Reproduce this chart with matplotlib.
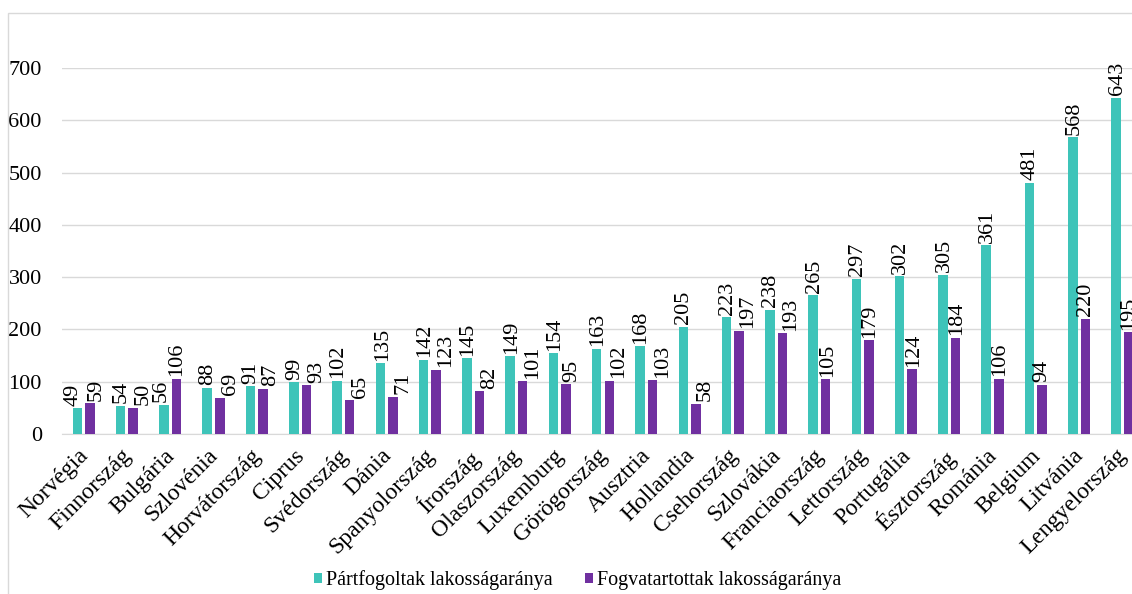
import matplotlib
matplotlib.use("Agg")
import matplotlib.pyplot as plt
from matplotlib.patches import Patch, Rectangle
from matplotlib.transforms import ScaledTranslation
import numpy as np

countries = ["Norvégia", "Finnország", "Bulgária", "Szlovénia", "Horvátország",
             "Ciprus", "Svédország", "Dánia", "Spanyolország", "Írország",
             "Olaszország", "Luxemburg", "Görögország", "Ausztria", "Hollandia",
             "Csehország", "Szlovákia", "Franciaország", "Lettország", "Portugália",
             "Észtország", "Románia", "Belgium", "Litvánia", "Lengyelország"]
partfogoltak = [49, 54, 56, 88, 91, 99, 102, 135, 142, 145, 149, 154, 163, 168, 205,
                223, 238, 265, 297, 302, 305, 361, 481, 568, 643]
fogvatartottak = [59, 50, 106, 69, 87, 93, 65, 71, 123, 82, 101, 95, 102, 103, 58,
                  197, 193, 105, 179, 124, 184, 106, 94, 220, 195]
yticks = [0, 100, 200, 300, 400, 500, 600, 700]
series_names = ["Pártfogoltak lakosságaránya", "Fogvatartottak lakosságaránya"]

TEAL = "#3ec4b9"
PURPLE = "#7030a0"
GRID = "#d9d9d9"

# horizontal nudges (pixels) that keep neighbouring value labels apart
teal_label_dx = [-4, 1, -3, 0, 0, 1, 1, 2, 1, 1, 1, 1, 1, 1, 0,
                 1, 1, 1, 1, 1, 1, 1, 1, 1, 1]
purple_label_dx = [6, 10, 0, 11, 8, 10, 11, 10, 9, 10, 10, 6, 9, 10, 9,
                   8, 8, 2, 1, 1, 1, 1, 0, 0, 0]

plt.rcParams["font.family"] = ["Liberation Serif", "DejaVu Serif"]

W, H = 1132, 594
fig = plt.figure(figsize=(W / 100, H / 100), dpi=100)
PX = 72 / 100  # points per pixel

# outer chart-area frame (runs past the right and bottom edges)
fig.patches.append(Rectangle((8 / W, -0.1), 1.2, 1 - 13 / H + 0.1,
                             transform=fig.transFigure, fill=False,
                             edgecolor=GRID, linewidth=1.0))

ax = fig.add_axes([62 / W, 1 - 434 / H, (1144 - 62) / W, (434 - 68) / H])

x = np.arange(len(countries))
bw = 0.22
off = 0.145
b1 = ax.bar(x - off, partfogoltak, bw, color=TEAL, zorder=3)
b2 = ax.bar(x + off, fogvatartottak, bw, color=PURPLE, zorder=3)

for bars, vals, dxs in ((b1, partfogoltak, teal_label_dx),
                        (b2, fogvatartottak, purple_label_dx)):
    for rect, v, dx in zip(bars, vals, dxs):
        ax.annotate(str(v), (rect.get_x() + rect.get_width() / 2, v),
                    xytext=(dx * PX, 2.5 * PX), textcoords="offset points",
                    rotation=90, ha="center", va="bottom", fontsize=16,
                    color="#000000", annotation_clip=False, zorder=4)

ax.set_xlim(-0.5, len(countries) - 0.5)
ax.set_ylim(0, 700)
ax.set_yticks(yticks)
ax.set_yticklabels([str(t) for t in yticks], fontsize=16)
ax.yaxis.grid(True, color=GRID, linewidth=1.0, zorder=0)
ax.set_axisbelow(True)
ax.tick_params(axis="y", length=0, pad=14.5)
ax.tick_params(axis="x", length=0, pad=8)
for s in ("top", "right", "left"):
    ax.spines[s].set_visible(False)
ax.spines["bottom"].set_color(GRID)

ax.set_xticks(x)
ax.set_xticklabels(countries, rotation=45, ha="right", rotation_mode="anchor",
                   fontsize=17)
shift = ScaledTranslation(-6 / 100, 0, fig.dpi_scale_trans)
for lbl in ax.get_xticklabels():
    lbl.set_transform(lbl.get_transform() + shift)

handles = [Patch(facecolor=TEAL), Patch(facecolor=PURPLE)]
fig.legend(handles, series_names, loc="center", bbox_to_anchor=(578 / W, 1 - 580 / H),
           ncol=2, frameon=False, fontsize=14.5, handlelength=0.4, handleheight=0.4,
           handletextpad=0.2, columnspacing=1.6)

fig.savefig("out.png", dpi=100)
